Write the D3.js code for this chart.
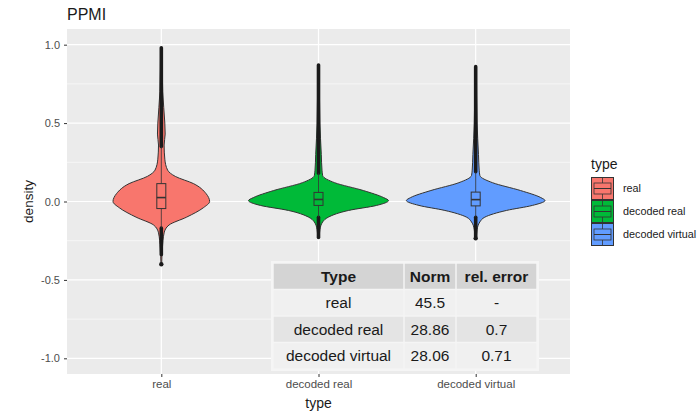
<!DOCTYPE html>
<html>
<head>
<meta charset="utf-8">
<script src="https://cdn.jsdelivr.net/npm/d3@7"></script>
<style>
  body { margin: 0; background: #fff; }
  svg { display: block; font-family: "Liberation Sans", Arial, sans-serif; }
</style>
</head>
<body>
<svg class="chart"></svg>
<script>
// data
var types = ['real', 'decoded real', 'decoded virtual'];
var fills = ['#F8766D', '#00BA38', '#619CFF'];

// violin profiles: value, relative density
var realValues    = [0.98, 0.7, 0.5, 0.43, 0.36, 0.27, 0.2, 0.16, 0.114, 0.05, 0.0, -0.04, -0.1, -0.15, -0.2, -0.3, -0.4];
var realDensity   = [0.01, 0.02, 0.05, 0.055, 0.04, 0.05, 0.09, 0.2, 0.46, 0.64, 0.69, 0.6, 0.36, 0.11, 0.04, 0.015, 0.005];
var dreValues     = [0.87, 0.5, 0.3, 0.2, 0.165, 0.12, 0.07, 0.025, 0.006, -0.025, -0.057, -0.1, -0.13, -0.18, -0.23];
var dreDensity    = [0.01, 0.02, 0.04, 0.05, 0.06, 0.23, 0.64, 0.93, 1.0, 0.83, 0.43, 0.14, 0.06, 0.02, 0.01];
var dviValues     = [0.86, 0.5, 0.3, 0.2, 0.165, 0.12, 0.07, 0.025, 0.006, -0.025, -0.057, -0.1, -0.13, -0.18, -0.235];
var dviDensity    = [0.01, 0.02, 0.04, 0.05, 0.06, 0.24, 0.64, 0.93, 0.99, 0.81, 0.44, 0.13, 0.06, 0.02, 0.01];

// boxplot stats per type
var boxQ1     = [-0.045, -0.025, -0.028];
var boxMedian = [0.025, 0.013, 0.012];
var boxQ3     = [0.114, 0.058, 0.06];
var whiskLow  = [-0.17, -0.1, -0.1];
var whiskHigh = [0.35, 0.18, 0.19];

// outlier runs (dense points) and single outliers
var outlierHighFrom = [0.35, 0.18, 0.19];
var outlierHighTo   = [0.98, 0.87, 0.86];
var outlierLowFrom  = [-0.34, -0.23, -0.225];
var outlierLowTo    = [-0.17, -0.1, -0.1];
var singleOutliers  = [[-0.4], [], [-0.235]];

var yTicks = [-1, -0.5, 0, 0.5, 1];
var yMinor = [-0.75, -0.25, 0.25, 0.75];

// table
var tableHeader = ['Type', 'Norm', 'rel. error'];
var tableType   = ['real', 'decoded real', 'decoded virtual'];
var tableNorm   = ['45.5', '28.86', '28.06'];
var tableError  = ['-', '0.7', '0.71'];

// chart
var width = 699;
var height = 412;
var panel = { left: 67, right: 570, top: 29, bottom: 374 };

var chart = d3.select('.chart')
    .attr('width', width)
    .attr('height', height);

var x = d3.scalePoint()
    .domain(types)
    .range([panel.left, panel.right])
    .padding(0.6);

var y = d3.scaleLinear()
    .domain([-1.1, 1.1])
    .range([panel.bottom, panel.top]);

var w = d3.scaleLinear()
    .domain([0, 1])
    .range([0, 70]);

// panel + grid
chart.append('rect')
    .attr('x', panel.left)
    .attr('y', panel.top)
    .attr('width', panel.right - panel.left)
    .attr('height', panel.bottom - panel.top)
    .attr('fill', '#ebebeb');

chart.selectAll('.minor')
    .data(yMinor)
  .enter().append('line')
    .attr('x1', panel.left).attr('x2', panel.right)
    .attr('y1', function(d){return y(d)}).attr('y2', function(d){return y(d)})
    .attr('stroke', '#fff').attr('stroke-width', 0.6);

chart.selectAll('.major')
    .data(yTicks)
  .enter().append('line')
    .attr('x1', panel.left).attr('x2', panel.right)
    .attr('y1', function(d){return y(d)}).attr('y2', function(d){return y(d)})
    .attr('stroke', '#fff').attr('stroke-width', 1.2);

chart.selectAll('.vgrid')
    .data(types)
  .enter().append('line')
    .attr('y1', panel.top).attr('y2', panel.bottom)
    .attr('x1', function(d){return x(d)}).attr('x2', function(d){return x(d)})
    .attr('stroke', '#fff').attr('stroke-width', 1.2);

// violins
var profiles = [
  d3.zip(realValues, realDensity),
  d3.zip(dreValues, dreDensity),
  d3.zip(dviValues, dviDensity)
];

types.forEach(function(t, i) {
  var cx = x(t);
  var area = d3.area()
      .y(function(d){return y(d[0])})
      .x0(function(d){return cx - w(d[1])})
      .x1(function(d){return cx + w(d[1])})
      .curve(d3.curveMonotoneY);

  chart.append('path')
      .attr('d', area(profiles[i]))
      .attr('fill', fills[i])
      .attr('stroke', '#333')
      .attr('stroke-width', 1);

  // outliers drawn as dense point runs
  [[outlierHighFrom[i], outlierHighTo[i]], [outlierLowFrom[i], outlierLowTo[i]]].forEach(function(r) {
    chart.append('line')
        .attr('x1', cx).attr('x2', cx)
        .attr('y1', y(r[0])).attr('y2', y(r[1]))
        .attr('stroke', '#1a1a1a')
        .attr('stroke-width', 3.6)
        .attr('stroke-linecap', 'round');
  });
  chart.selectAll('.single' + i)
      .data(singleOutliers[i])
    .enter().append('circle')
      .attr('cx', cx)
      .attr('cy', function(d){return y(d)})
      .attr('r', 2.2)
      .attr('fill', '#1a1a1a');

  // whiskers
  chart.append('line')
      .attr('x1', cx).attr('x2', cx)
      .attr('y1', y(whiskLow[i])).attr('y2', y(whiskHigh[i]))
      .attr('stroke', '#333').attr('stroke-width', 0.8);

  // box
  chart.append('rect')
      .attr('x', cx - 4.5)
      .attr('y', y(boxQ3[i]))
      .attr('width', 9)
      .attr('height', y(boxQ1[i]) - y(boxQ3[i]))
      .attr('fill', fills[i])
      .attr('stroke', '#333')
      .attr('stroke-width', 1);
  chart.append('line')
      .attr('x1', cx - 4.5).attr('x2', cx + 4.5)
      .attr('y1', y(boxMedian[i])).attr('y2', y(boxMedian[i]))
      .attr('stroke', '#333').attr('stroke-width', 1.6);
});

// draw Axes
var yAxis = d3.axisLeft(y)
    .tickValues(yTicks)
    .tickFormat(function(d){return d.toFixed(1)})
    .tickSize(3)
    .tickPadding(4);

var gy = chart.append('g')
    .attr('transform', 'translate(' + panel.left + ',0)')
    .call(yAxis);
gy.select('.domain').remove();
gy.selectAll('line').attr('stroke', '#333');
gy.selectAll('text').attr('fill', '#4d4d4d').style('font-size', '11px');

var xAxis = d3.axisBottom(x)
    .tickSize(3)
    .tickPadding(3);

var gx = chart.append('g')
    .attr('transform', 'translate(0,' + panel.bottom + ')')
    .call(xAxis);
gx.select('.domain').remove();
gx.selectAll('line').attr('stroke', '#333');
gx.selectAll('text').attr('fill', '#4d4d4d').style('font-size', '11.5px');

// axes labels + title
chart.append('text')
    .attr('x', panel.left)
    .attr('y', 20)
    .attr('fill', '#1a1a1a')
    .style('font-size', '16px')
    .text('PPMI');

chart.append('text')
    .attr('transform', 'translate(33,' + y(0) + ') rotate(-90)')
    .attr('text-anchor', 'middle')
    .attr('fill', '#1a1a1a')
    .style('font-size', '13.5px')
    .text('density');

chart.append('text')
    .attr('x', x('decoded real'))
    .attr('y', 408)
    .attr('text-anchor', 'middle')
    .attr('fill', '#1a1a1a')
    .style('font-size', '14px')
    .text('type');

// legend
var legend = chart.append('g').attr('transform', 'translate(591,177)');
legend.append('text')
    .attr('x', 0).attr('y', -8)
    .attr('fill', '#1a1a1a')
    .style('font-size', '14px')
    .text('type');

types.forEach(function(t, i) {
  var g = legend.append('g').attr('transform', 'translate(0,' + (i * 23) + ')');
  g.append('rect')
      .attr('x', 0.5).attr('y', 0.5).attr('width', 22).attr('height', 22)
      .attr('fill', fills[i]).attr('stroke', '#333').attr('stroke-width', 1);
  g.append('rect')
      .attr('x', 3).attr('y', 6).attr('width', 17).attr('height', 11)
      .attr('fill', 'none').attr('stroke', '#333').attr('stroke-width', 0.8);
  g.append('line')
      .attr('x1', 3).attr('x2', 20).attr('y1', 11.5).attr('y2', 11.5)
      .attr('stroke', '#333').attr('stroke-width', 1);
  g.append('line')
      .attr('x1', 11.5).attr('x2', 11.5).attr('y1', 1).attr('y2', 6)
      .attr('stroke', '#333').attr('stroke-width', 0.8);
  g.append('line')
      .attr('x1', 11.5).attr('x2', 11.5).attr('y1', 17).attr('y2', 22)
      .attr('stroke', '#333').attr('stroke-width', 0.8);
  g.append('text')
      .attr('x', 32).attr('y', 11.5)
      .attr('dy', '0.35em')
      .attr('fill', '#1a1a1a')
      .style('font-size', '10.8px')
      .text(t);
});

// table
var colEdges = [273, 404, 456, 537];
var rowTop = 263, rowH = 26.5;
var rows = [tableHeader].concat(d3.zip(tableType, tableNorm, tableError));
var rowFill = ['#d4d4d4', '#f0f0f0', '#e4e4e4', '#f0f0f0'];

var table = chart.append('g');
table.append('rect')
    .attr('x', colEdges[0] - 2).attr('y', rowTop - 2)
    .attr('width', colEdges[3] - colEdges[0] + 4)
    .attr('height', rowH * rows.length + 4)
    .attr('fill', '#f5f5f5');

rows.forEach(function(r, ri) {
  r.forEach(function(cell, ci) {
    table.append('rect')
        .attr('x', colEdges[ci] + 0.75)
        .attr('y', rowTop + ri * rowH + 0.75)
        .attr('width', colEdges[ci + 1] - colEdges[ci] - 1.5)
        .attr('height', rowH - 1.5)
        .attr('fill', rowFill[ri]);
    table.append('text')
        .attr('x', (colEdges[ci] + colEdges[ci + 1]) / 2)
        .attr('y', rowTop + ri * rowH + rowH / 2)
        .attr('dy', '0.36em')
        .attr('text-anchor', 'middle')
        .attr('fill', '#1a1a1a')
        .style('font-size', '15.5px')
        .style('font-weight', ri === 0 ? 'bold' : 'normal')
        .text(cell);
  });
});
</script>
</body>
</html>
